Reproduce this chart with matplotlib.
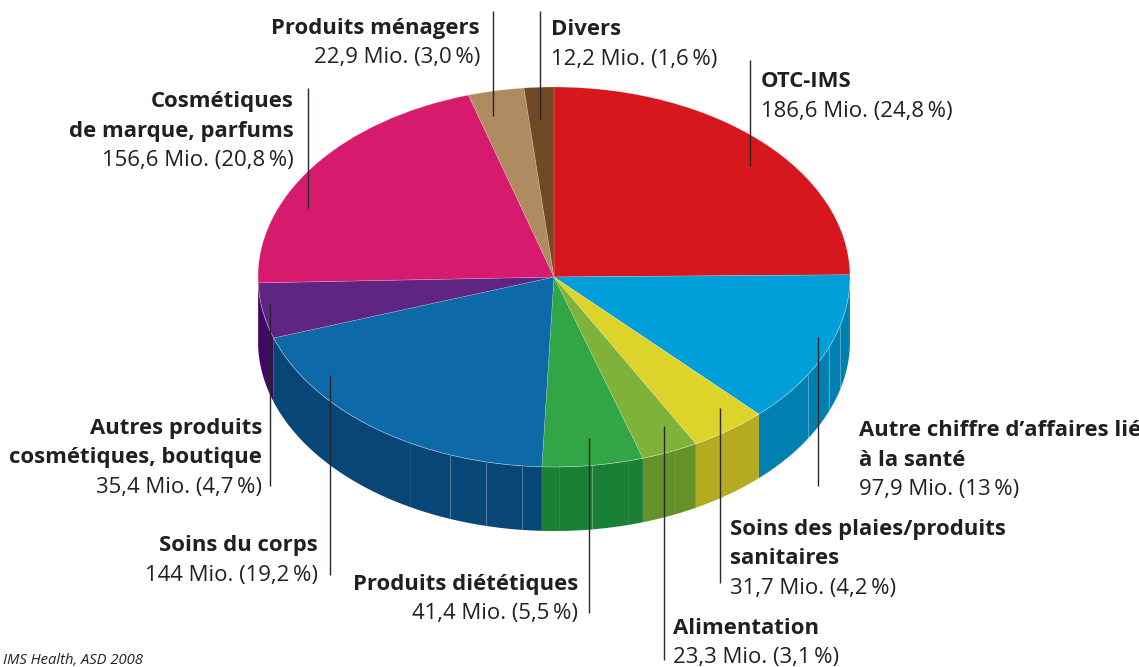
import numpy as np
import matplotlib
matplotlib.use("Agg")
import matplotlib.pyplot as plt

names = ["OTC-IMS", "Autre chiffre d’affaires lié\nà la santé", "Soins des plaies/produits\nsanitaires",
         "Alimentation", "Produits diététiques", "Soins du corps",
         "Autres produits\ncosmétiques, boutique", "Cosmétiques\nde marque, parfums",
         "Produits ménagers", "Divers"]
values = [186.6, 97.9, 31.7, 23.3, 41.4, 144.0, 35.4, 156.6, 22.9, 12.2]
value_labels = ["186,6 Mio. (24,8\u2009%)", "97,9 Mio. (13\u2009%)", "31,7 Mio. (4,2\u2009%)", "23,3 Mio. (3,1\u2009%)",
                "41,4 Mio. (5,5\u2009%)", "144 Mio. (19,2\u2009%)", "35,4 Mio. (4,7\u2009%)", "156,6 Mio. (20,8\u2009%)",
                "22,9 Mio. (3,0\u2009%)", "12,2 Mio. (1,6\u2009%)"]
top_colors = ["#D6171E", "#009FD9", "#DDD42B", "#7EB239", "#32A546", "#0D69A8", "#5E2582", "#D61B6E", "#AE8B61", "#704A25"]
wall_colors = ["#A01015", "#0080B0", "#B5AB20", "#65912B", "#1A8035", "#074676", "#3E0A63", "#A0144F", "#7F6544", "#503518"]

# layout (pixels)
W, H = 1139, 667
CX, CY, RX, RY, DEPTH = 554, 277, 296, 190, 64
text_pos = [(761, 79, "left"), (859, 428, "left"), (730, 527, "left"), (673, 626, "left"), (578, 582, "right"),
            (318, 543, "right"), (262, 426, "right"), (294, 99, "right"), (480, 26, "right"), (551, 27, "left")]
leaders = [(750, 60, 166), (818, 337, 486), (720, 408, 583), (664, 426, 660), (589, 438, 613),
           (330, 375, 575), (270, 303, 486), (308, 88, 208), (493, 11, 116), (540, 11, 119)]
facet_x = [450, 486, 522, 592, 808, 829, 840]
faint_x = [410, 559, 628, 675, 849]

plt.rcParams["font.family"] = ["Open Sans", "DejaVu Sans"]
fig = plt.figure(figsize=(W / 100, H / 100), dpi=100, facecolor="white")
ax = fig.add_axes([0, 0, 1, 1])
ax.pie(values, colors=top_colors, startangle=90, counterclock=False, radius=1,
       wedgeprops=dict(linewidth=0.4, edgecolor=(1, 1, 1, 0.3), zorder=3))
ax.set_aspect("auto")
ax.set_xlim(-CX / RX, (W - CX) / RX)
ax.set_ylim(-(H - CY) / RY, CY / RY)
ax.axis("off")

d = DEPTH / RY
frac = np.cumsum([0] + values) / sum(values)
ang = 90 - 360 * frac
for i in range(len(values)):
    a0, a1 = ang[i], ang[i + 1]
    lo, hi = max(a1, -180), min(a0, 0)
    if hi <= lo:
        continue
    t = np.radians(np.linspace(hi, lo, 80))
    xs = np.concatenate([np.cos(t), np.cos(t[::-1])])
    ys = np.concatenate([np.sin(t), np.sin(t[::-1]) - d])
    ax.fill(xs, ys, color=wall_colors[i], lw=0, zorder=2)

ov = fig.add_axes([0, 0, 1, 1])
ov.set_xlim(0, W)
ov.set_ylim(H, 0)
ov.axis("off")
ov.patch.set_alpha(0)

for xs_, col in ((facet_x, (1, 1, 1, 0.30)), (faint_x, (1, 1, 1, 0.08))):
    for x in xs_:
        y = CY + RY * np.sqrt(1 - ((x - CX) / RX) ** 2)
        ov.plot([x, x], [y, y + DEPTH], color=col, lw=0.8, zorder=1, solid_capstyle="butt")

# rim highlight
t = np.radians(np.linspace(-180, 0, 300))
ov.plot(CX + RX * np.cos(t), CY - RY * np.sin(t), color=(1, 1, 1, 0.22), lw=0.6, zorder=1)

for x, y0, y1 in leaders:
    ov.plot([x, x], [y0, y1], color="#2b2526", lw=1.0, zorder=4, solid_capstyle="butt")

TXT = "#231F20"
FS = 15.9
LINE = 29.5
for name, val, (x, y, ha) in zip(names, value_labels, text_pos):
    lines = name.split("\n")
    for k, ln in enumerate(lines):
        ov.text(x, y + k * LINE, ln, ha=ha, va="center_baseline", fontsize=FS, fontweight="bold", color=TXT, zorder=5)
    ov.text(x, y + len(lines) * LINE, val, ha=ha, va="center_baseline", fontsize=FS, color=TXT, zorder=5)
ov.text(3, 659, "IMS Health, ASD 2008", ha="left", va="center_baseline", fontsize=10.6, style="italic", color=TXT)

fig.savefig("out.png", dpi=100)
